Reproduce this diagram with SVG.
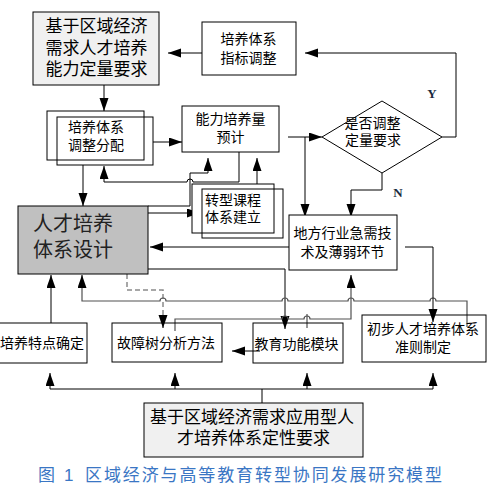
<svg xmlns="http://www.w3.org/2000/svg" width="500" height="491" viewBox="0 0 500 491">
<defs>
<marker id="ah" markerUnits="userSpaceOnUse" markerWidth="14" markerHeight="10" refX="13" refY="4.5" orient="auto">
<path d="M0,0 L13,4.5 L0,9 z" fill="#000"/>
</marker>
</defs>
<style>
.box{fill:#fff;stroke:#000;stroke-width:1}
.nf{fill:none;stroke:#000;stroke-width:1}
.lt{fill:#f0f0f0;stroke:#000;stroke-width:1}
.gr{fill:#c0c0c0;stroke:#000;stroke-width:1}
text{font-family:"Liberation Sans","Noto Sans CJK SC",sans-serif;fill:#000;dominant-baseline:central}
.t14{font-size:14px}
.t17{font-size:17px}
.t20{font-size:20px;fill:#222}
.c{text-anchor:middle}
.ln{fill:none;stroke:#000;stroke-width:1}
.lg{fill:none;stroke:#505050;stroke-width:1.2}
.ld{fill:none;stroke:#8a8a8a;stroke-width:1.5;stroke-dasharray:5,3}
.a{marker-end:url(#ah)}
.yn{font-family:"Liberation Serif",serif;font-size:13px;font-weight:bold;fill:#1a2a40}
.cap{font-size:17px;fill:#3a76c4}
</style>

<g id="connectors">
<path class="ln a" d="M211,53 H168"/>
<path class="ln a" d="M104,85 V111"/>
<path class="ln a" d="M153,142 H182"/>
<path class="ln a" d="M83,165 V206"/>
<path class="ln a" d="M239,152 V182 H193 a3,3 0 0 0 -6,0 H104 V166"/>
<path class="ln a" d="M148,206 H190 V173 H208 V158"/>
<path class="ln a" d="M257,184 V158"/>
<path class="ln a" d="M148,213 H200"/>
<path class="ln a" d="M288,137 H322"/>
<path class="ln a" d="M305,137 V217"/>
<path class="ln a" d="M382,173 V190 H351 V217"/>
<path class="ln a" d="M442,137 H456 V53 H305"/>
<path class="ln a" d="M308,247 H150"/>
<path class="ln a" d="M148,269 H285 V329"/>
<path class="ld" d="M127,274 V290 H163 V318"/>
<path class="ln a" d="M163,316 V328"/>
<path class="lg" d="M467,327 V301 H436 a3,3 0 0 0 -6,0 H354 a3,3 0 0 0 -6,0 H288 a3,3 0 0 0 -6,0 H166 a3,3 0 0 0 -6,0 H82 V286"/>
<path class="ln a" d="M82,287 V275"/>
<path class="lg" d="M175,331 V319 H282 a3,3 0 0 1 6,0 H304 a3,3 0 0 1 6,0 H351 V286"/>
<path class="ln a" d="M351,287 V275"/>
<path class="lg" d="M307,314 V328"/>
<path class="ln a" d="M405,247 H433 V322"/>
<path class="ln a" d="M260,351 H232"/>
<path class="ln a" d="M51,323 V275"/>
<path class="ln" d="M262,403 V389 M50,389 H433"/>
<path class="ln a" d="M50,389 V373"/>
<path class="ln a" d="M175,389 V373"/>
<path class="ln a" d="M307,389 V373"/>
<path class="ln a" d="M433,389 V373"/>
<text class="yn c" x="432" y="93">Y</text>
<text class="yn c" x="398" y="192">N</text>
</g>

<g id="n_quant">
<rect class="lt" x="33" y="12" width="126" height="73"/>
<text class="t17 c"><tspan x="96.5" y="26">基于区域经济</tspan><tspan x="96.5" y="47.5">需求人才培养</tspan><tspan x="96.5" y="69">能力定量要求</tspan></text>
</g>

<g id="n_index">
<rect class="box" x="202" y="22" width="94" height="53"/>
<text class="t14 c"><tspan x="248.5" y="39">培养体系</tspan><tspan x="248.5" y="58">指标调整</tspan></text>
</g>

<g id="n_alloc">
<rect class="box" x="47" y="111" width="97" height="49"/>
<rect class="nf" x="57" y="117" width="96" height="48"/>
<text class="t14"><tspan x="68" y="127">培养体系</tspan><tspan x="68" y="145">调整分配</tspan></text>
</g>

<g id="n_ability">
<rect class="box" x="182" y="106" width="97" height="46"/>
<text class="t14 c"><tspan x="230.5" y="119">能力培养量</tspan><tspan x="230.5" y="137">预计</tspan></text>
</g>

<g id="n_decide">
<polygon points="322,137 382,101 442,137 382,173" fill="#fff" stroke="#000" stroke-width="1"/>
<text class="t14 c"><tspan x="372.5" y="123">是否调整</tspan><tspan x="373" y="140">定量要求</tspan></text>
</g>

<g id="n_course">
<rect class="box" x="192" y="184" width="82" height="49"/>
<rect class="nf" x="202" y="189" width="81" height="49"/>
<text class="t14"><tspan x="205" y="200">转型课程</tspan><tspan x="205" y="217">体系建立</tspan></text>
</g>

<g id="n_design">
<rect class="gr" x="18" y="206" width="130" height="68"/>
<text class="t20"><tspan x="33" y="223.5">人才培养</tspan><tspan x="33" y="249.5">体系设计</tspan></text>
</g>

<g id="n_local">
<rect class="box" x="289" y="215" width="108" height="55"/>
<text class="t14 c"><tspan x="342.5" y="233">地方行业急需技</tspan><tspan x="342.5" y="252">术及薄弱环节</tspan></text>
</g>

<g id="n_feature">
<rect class="box" x="-2" y="323" width="89" height="40"/>
<text class="t14 c" x="42" y="343">培养特点确定</text>
</g>

<g id="n_fault">
<rect class="nf" x="112" y="323" width="110" height="39"/>
<text class="t14 c" x="166" y="343">故障树分析方法</text>
</g>

<g id="n_edu">
<rect class="nf" x="253" y="323" width="90" height="40"/>
<text class="t14 c" x="296.5" y="344">教育功能模块</text>
</g>

<g id="n_rule">
<rect class="nf" x="362" y="315" width="124" height="47"/>
<text class="t14 c"><tspan x="423" y="329">初步人才培养体系</tspan><tspan x="423" y="347">准则制定</tspan></text>
</g>

<g id="n_qual">
<rect class="lt" x="144" y="403" width="219" height="54"/>
<text class="t17"><tspan x="150" y="417">基于区域经济需求应用型人</tspan><tspan x="177" y="438">才培养体系定性要求</tspan></text>
</g>

<g id="caption">
<text class="cap" x="38" y="475">图</text>
<text class="cap" x="64" y="475">1</text>
<text class="cap" x="85" y="475" textLength="357" lengthAdjust="spacing">区域经济与高等教育转型协同发展研究模型</text>
</g>
</svg>
